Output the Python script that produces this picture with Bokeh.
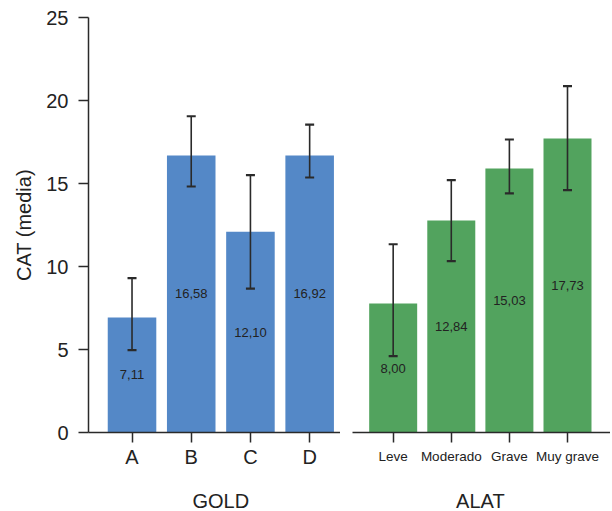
from bokeh.plotting import figure
from bokeh.models import Range1d, FixedTicker, Whisker, ColumnDataSource, TeeHead
from bokeh.layouts import row, column
from bokeh.core.properties import value
from bokeh.embed import file_html
from bokeh.resources import INLINE

# ---- data ----
gold_cats = ["A", "B", "C", "D"]
gold_means = [6.93, 16.69, 12.10, 16.69]
gold_labels = ["7,11", "16,58", "12,10", "16,92"]
gold_upper = [9.3, 19.05, 15.5, 18.55]
gold_lower = [4.96, 14.82, 8.67, 15.36]

alat_cats = ["Leve", "Moderado", "Grave", "Muy grave"]
alat_means = [7.77, 12.77, 15.9, 17.71]
alat_labels = ["8,00", "12,84", "15,03", "17,73"]
alat_upper = [11.34, 15.2, 17.65, 20.86]
alat_lower = [4.6, 10.32, 14.4, 14.6]

y_ticks = [0, 5, 10, 15, 20, 25]

FONT = "Liberation Sans"
TXT = "#222222"
AX = "#2a2a2a"
BLUE = "#5488C7"
GREEN = "#52A35E"
H_TOP = 472
H_TITLE = 39


def make_panel(cats, means, labels, upper, lower, color, width,
               x_start, x_end, bar_w, left_border, tick_font, tick_standoff,
               show_y):
    idx = list(range(len(cats)))
    src = ColumnDataSource(dict(
        x=idx, top=means, upper=upper, lower=lower, lab=labels,
        ly=[m / 2 for m in means]))
    p = figure(width=width, height=H_TOP, output_backend="svg", toolbar_location=None,
               x_range=Range1d(x_start, x_end), y_range=Range1d(0, 25),
               min_border_left=left_border, min_border_right=0,
               min_border_top=17, min_border_bottom=40,
               y_axis_location="left" if show_y else None)
    p.outline_line_color = None
    p.grid.visible = False
    p.background_fill_color = "white"
    p.border_fill_color = "white"

    p.vbar(x="x", top="top", width=bar_w, source=src, fill_color=color, line_color=None)
    w = Whisker(base="x", upper="upper", lower="lower", source=src, level="overlay",
                line_color=AX, line_width=1.6,
                upper_head=TeeHead(size=9, line_color=AX, line_width=2.2),
                lower_head=TeeHead(size=9, line_color=AX, line_width=2.2))
    p.add_layout(w)
    p.text(x="x", y="ly", text="lab", source=src, text_align="center",
           text_baseline="middle", text_font=value(FONT), text_font_size="13px",
           text_color=TXT)

    xa = p.xaxis[0]
    xa.ticker = FixedTicker(ticks=idx)
    xa.major_label_overrides = {i: c for i, c in zip(idx, cats)}
    xa.minor_tick_line_color = None
    xa.major_tick_in = 0
    xa.major_tick_out = 10
    xa.major_tick_line_color = AX
    xa.major_tick_line_width = 1.5
    xa.axis_line_color = AX
    xa.axis_line_width = 1.5
    xa.major_label_text_font = FONT
    xa.major_label_text_font_size = tick_font
    xa.major_label_text_color = TXT
    xa.major_label_standoff = tick_standoff

    if show_y:
        ya = p.yaxis[0]
        ya.ticker = FixedTicker(ticks=y_ticks)
        ya.minor_tick_line_color = None
        ya.major_tick_in = 0
        ya.major_tick_out = 10
        ya.major_tick_line_color = AX
        ya.major_tick_line_width = 1.5
        ya.axis_line_color = AX
        ya.axis_line_width = 1.5
        ya.major_label_text_font = FONT
        ya.major_label_text_font_size = "20px"
        ya.major_label_text_color = TXT
        ya.major_label_standoff = 10
        ya.axis_label = "CAT (media)"
        ya.axis_label_text_font = FONT
        ya.axis_label_text_font_size = "20px"
        ya.axis_label_text_font_style = "normal"
        ya.axis_label_text_color = TXT
        ya.axis_label_standoff = 8
    return p


def make_title(cats, title, width, x_start, x_end, left_border):
    idx = list(range(len(cats)))
    t = figure(width=width, height=H_TITLE, output_backend="svg", toolbar_location=None,
               x_range=Range1d(x_start, x_end), y_range=Range1d(0, H_TITLE),
               min_border_left=left_border, min_border_right=0,
               min_border_top=0, min_border_bottom=0,
               x_axis_location=None, y_axis_location=None)
    t.outline_line_color = None
    t.grid.visible = False
    t.text(x=[(idx[0] + idx[-1]) / 2], y=[11], text=[title], text_align="center",
           text_baseline="middle", text_font=value(FONT), text_font_size="20px",
           text_color=TXT)
    return t


p1 = make_panel(gold_cats, gold_means, gold_labels, gold_upper, gold_lower, BLUE,
                340, -0.735, 3.521, 0.82, 88, "20px", 3, True)
p2 = make_panel(alat_cats, alat_means, alat_labels, alat_upper, alat_lower, GREEN,
                270, -0.70, 3.74, 0.826, 12, "13.5px", 6, False)
t1 = make_title(gold_cats, "GOLD", 340, -0.735, 3.521, 88)
t2 = make_title(alat_cats, "ALAT", 270, -0.70, 3.74, 12)

layout = column(row(p1, p2, spacing=0), row(t1, t2, spacing=0), spacing=0)
open("out.html", "w").write(file_html(layout, INLINE))
